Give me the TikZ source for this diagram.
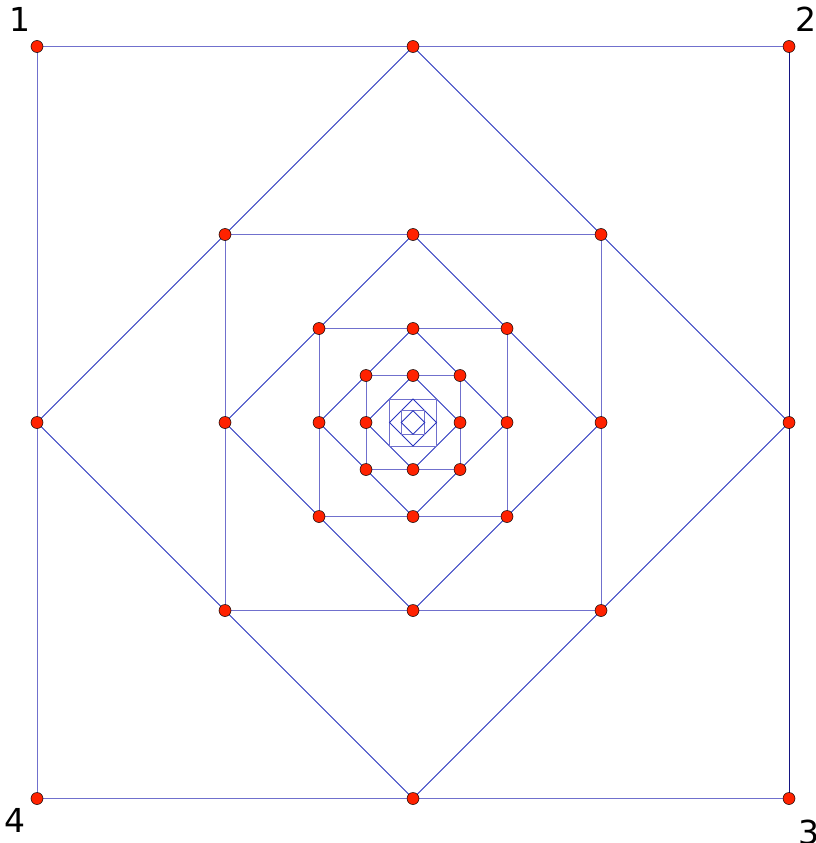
\documentclass[tikz,border=0pt]{standalone}
\usepackage{fontspec}
\setmainfont{DejaVu Sans}

\definecolor{sqblue}{RGB}{112,112,205}
\definecolor{dmblue}{RGB}{40,52,190}
\definecolor{edgenavy}{RGB}{20,20,130}
\definecolor{dotred}{RGB}{255,34,0}

\tikzset{
  sqline/.style={draw=sqblue, line width=1pt},
  dmline/.style={draw=dmblue, line width=1pt},
  vertexdot/.style={circle, fill=dotred, draw=black, line width=0.5pt,
                    inner sep=0pt, minimum size=12pt},
  cornerlabel/.style={font=\fontsize{33}{33}\selectfont, inner sep=0pt}
}

\begin{document}
\begin{tikzpicture}[x=1pt, y=-1pt]
\useasboundingbox (0,0) rectangle (815,843);

% corners and side midpoints of the nested squares
\foreach \k in {1,...,6} {
    \pgfmathsetmacro\h{376/2^(\k-1)}
    \coordinate (c\k-1) at (413-\h,422.5-\h);
    \coordinate (c\k-2) at (413+\h,422.5-\h);
    \coordinate (c\k-3) at (413+\h,422.5+\h);
    \coordinate (c\k-4) at (413-\h,422.5+\h);
    \coordinate (m\k-1) at (413,422.5-\h);
    \coordinate (m\k-2) at (413+\h,422.5);
    \coordinate (m\k-3) at (413,422.5+\h);
    \coordinate (m\k-4) at (413-\h,422.5);
}

% squares and diamonds
\foreach \k in {1,...,6} {
    \draw[sqline] (c\k-1) -- (c\k-2) -- (c\k-3) -- (c\k-4) -- cycle;
    \draw[dmline] (m\k-1) -- (m\k-2) -- (m\k-3) -- (m\k-4) -- cycle;
}
\draw[draw=edgenavy, line width=1pt] (c1-2) -- (c1-3);

% red points on the four outer levels
\foreach \k in {1,...,4} {
    \foreach \i in {1,...,4} {
        \node[vertexdot] (pc\k\i) at (c\k-\i) {};
        \node[vertexdot] (pm\k\i) at (m\k-\i) {};
    }
}

% corner numbers
\node[cornerlabel] (lab1) at (19.5,19.5) {1};
\node[cornerlabel] (lab2) at (805.5,19.5) {2};
\node[cornerlabel] (lab3) at (808.5,832.5) {3};
\node[cornerlabel] (lab4) at (14.5,820.5) {4};
\end{tikzpicture}
\end{document}
